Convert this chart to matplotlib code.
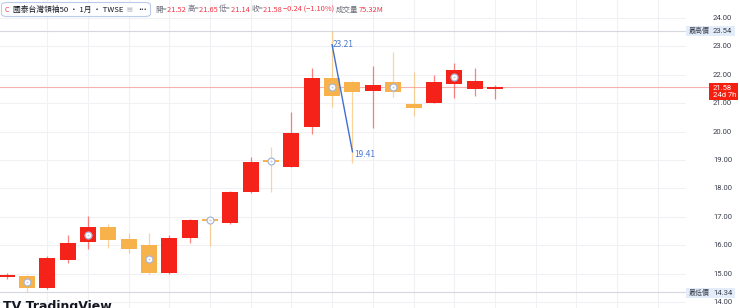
import matplotlib
matplotlib.use("Agg")
import matplotlib.pyplot as plt
from matplotlib.patches import Rectangle, FancyBboxPatch

plt.rcParams['font.family'] = ['Noto Sans CJK TC', 'DejaVu Sans']

# ---- data (monthly candles) ----
opens  = [14.91, 14.92, 14.49, 15.48, 16.11, 16.64, 16.22, 16.01, 15.02, 16.25, 16.89, 16.78, 17.87,
          18.98, 18.75, 20.16, 21.89, 21.75, 21.43, 21.75, 20.97, 21.01, 21.68, 21.50, 21.52]
highs  = [15.01, 14.95, 15.62, 16.36, 17.03, 16.75, 16.43, 16.43, 16.36, 16.92, 16.99, 17.90, 19.10,
          19.46, 20.69, 22.24, 23.54, 21.77, 22.31, 22.80, 22.10, 21.99, 22.42, 22.24, 21.65]
lows   = [14.82, 14.34, 14.46, 15.37, 15.87, 15.90, 15.73, 15.00, 15.00, 16.08, 15.97, 16.75, 17.84,
          17.87, 18.75, 19.92, 20.87, 18.89, 20.13, 21.22, 20.55, 21.00, 21.18, 21.25, 21.14]
closes = [14.93, 14.49, 15.55, 16.08, 16.64, 16.18, 15.87, 15.02, 16.25, 16.89, 16.85, 17.87, 18.93,
          18.92, 19.95, 21.89, 21.25, 21.39, 21.64, 21.39, 20.83, 21.75, 22.17, 21.78, 21.58]
dividend_idx = [1, 4, 7, 10, 13, 16, 19, 22]
price_ticks = [14, 15, 16, 17, 18, 19, 20, 21, 22, 23, 24]
tick_labels = ["14.00", "15.00", "16.00", "17.00", "18.00", "19.00", "20.00", "21.00",
               "22.00", "23.00", "24.00"]
all_high = 23.54
all_low = 14.34
draw_idx = [16, 17]
draw_y = [23.06, 19.29]
draw_labels = ["23.21", "19.41"]
title = "國泰台灣領袖50 · 1月 · TWSE"
ohlc_header = [("開=", "21.52"), ("高=", "21.65"), ("低=", "21.14"), ("收=", "21.58")]
change_text = "−0.24 (−1.10%)"
volume_text = "75.32M"
countdown = "24d 7h"

UP = '#F5221A'
DOWN = '#F7B24C'
GRID = '#F0F1F4'
TXT = '#3A3F4B'

W, H = 740, 308
fig = plt.figure(figsize=(W / 100, H / 100), dpi=100)
fig.patch.set_facecolor('white')
AX_R = 686
ax = fig.add_axes([0, 0, AX_R / W, 1])
ax.set_facecolor('white')
for s in ax.spines.values():
    s.set_visible(False)
ax.set_xticks([]); ax.set_yticks([])

step = 20.35
x0 = 6.5
ax.set_xlim(-x0 / step, (AX_R - x0) / step)
ppu = 28.4
ax.set_ylim(14 - (H - 302) / ppu, 24 + 18 / ppu)

# grid
for v in price_ticks:
    ax.axhline(v, color=GRID, lw=0.8, zorder=0)
for i in range(2, 34, 2):
    ax.axvline(i, color=GRID, lw=0.8, zorder=0)

# high / low lines
ax.axhline(all_high, color='#D5D8DE', lw=0.8, zorder=1)
ax.axhline(all_low, color='#D5D8DE', lw=0.8, zorder=1)

# current price line
yt = ax.get_yaxis_transform()
ax.plot([0, 709 / AX_R], [closes[-1], closes[-1]], color='#F8B0B0', lw=0.8,
        transform=yt, clip_on=False, zorder=1)

# candles
bw = 16 / step
for i, (o, h, l, c) in enumerate(zip(opens, highs, lows, closes)):
    col = UP if c >= o else DOWN
    ax.plot([i, i], [l, h], color=col, lw=0.9, alpha=0.55, zorder=2, solid_capstyle='butt')
    bot = min(o, c)
    hgt = max(abs(c - o), 0.07)
    if abs(c - o) < 0.07:
        bot = (o + c) / 2 - 0.035
    ax.add_patch(Rectangle((i - bw / 2, bot), bw, hgt, facecolor=col, edgecolor='none', zorder=3))

# dividend markers
for i in dividend_idx:
    ym = (opens[i] + closes[i]) / 2
    ax.plot(i, ym, marker='o', ms=5, mfc='white', mec='#A9B8D6', mew=0.9, zorder=5)
    ax.plot(i, ym, marker='o', ms=1.6, mfc='#C9D3E8', mec='none', zorder=6)

# drawing
ax.plot(draw_idx, draw_y, color='#3F6FD1', lw=1.0, zorder=6)
ax.text(draw_idx[0] + 0.05, draw_y[0], draw_labels[0], color='#4A78D0', fontsize=6,
        va='center', ha='left', zorder=7)
ax.text(draw_idx[1] + 0.1, draw_y[1] - 0.1, draw_labels[1], color='#4A78D0', fontsize=6,
        va='center', ha='left', zorder=7)

# right axis labels
lab_x = 713 / AX_R
for v, t in zip(price_ticks, tick_labels):
    ax.text(lab_x, v, t, transform=yt, fontsize=5.5, color=TXT, va='center', ha='left',
            clip_on=False, family=['Roboto', 'DejaVu Sans'])

def fx(p):
    return p / W

def fy(p):
    return 1 - p / H

# high / low boxes
for val, name, ypix in [(all_high, "最高價", 31), (all_low, "最低價", 293)]:
    fig.patches.append(Rectangle((fx(686), fy(ypix + 5)), fx(49), 10 / H, transform=fig.transFigure,
                                 facecolor='#E3EDFA', edgecolor='none', zorder=3))
    fig.text(fx(689), fy(ypix), name, fontsize=5, color=TXT, va='center', ha='left', zorder=4)
    fig.text(fx(713), fy(ypix), f"{val:.2f}", fontsize=5.5, color=TXT, va='center', ha='left',
             zorder=4, family=['Roboto', 'DejaVu Sans'])

# current price box
fig.patches.append(Rectangle((fx(709), fy(100)), fx(29), 17 / H, transform=fig.transFigure,
                             facecolor='#F51F10', edgecolor='none', zorder=3))
fig.text(fx(713), fy(87.5), f"{closes[-1]:.2f}", fontsize=5.5, color='white', va='center',
         ha='left', zorder=4, family=['Roboto', 'DejaVu Sans'])
fig.text(fx(713), fy(95), countdown, fontsize=5.5, color='white', va='center', ha='left',
         zorder=4, family=['Roboto', 'DejaVu Sans'])

# header box
fig.patches.append(FancyBboxPatch((fx(1.5), fy(16.5)), fx(149), 14 / H,
                                  boxstyle="round,pad=0,rounding_size=0.008",
                                  transform=fig.transFigure, facecolor='white',
                                  edgecolor='#BCCBEA', lw=0.8, zorder=3))
fig.text(fx(5), fy(9.5), "C", fontsize=5, color='#F23645', va='center', ha='left', zorder=4)
fig.text(fx(13), fy(9.5), title, fontsize=5.6, color='#131722', va='center', ha='left', zorder=4)
fig.text(fx(126), fy(9.5), "▤", fontsize=4.5, color='#B0B4BE', va='center', ha='left', zorder=4,
         family=['DejaVu Sans'])
fig.text(fx(138), fy(9.5), "•••", fontsize=3.5, color='#131722', va='center', ha='left', zorder=4,
         family=['DejaVu Sans'])

# OHLC line, segments placed one after another
fig.canvas.draw()
renderer = fig.canvas.get_renderer()
xpos = 155.0
segs = []
for lab, val in ohlc_header:
    segs.append((lab, '#6A6D78'))
    segs.append((val + " ", '#F23645'))
segs.append((change_text + " ", '#F23645'))
segs.append(("成交量", '#6A6D78'))
segs.append((volume_text, '#F23645'))
for s, c in segs:
    t = fig.text(fx(xpos), fy(9.5), s, fontsize=5.4, color=c, va='center', ha='left', zorder=4)
    bb = t.get_window_extent(renderer)
    xpos += bb.width

# TradingView logo (cut off at bottom, as in the reference)
fig.text(fx(3), fy(300), "TV TradingView", fontsize=9, fontweight='bold', color='#131722',
         va='top', ha='left', family=['DejaVu Sans'])

fig.savefig("out.png", dpi=100, facecolor='white')
